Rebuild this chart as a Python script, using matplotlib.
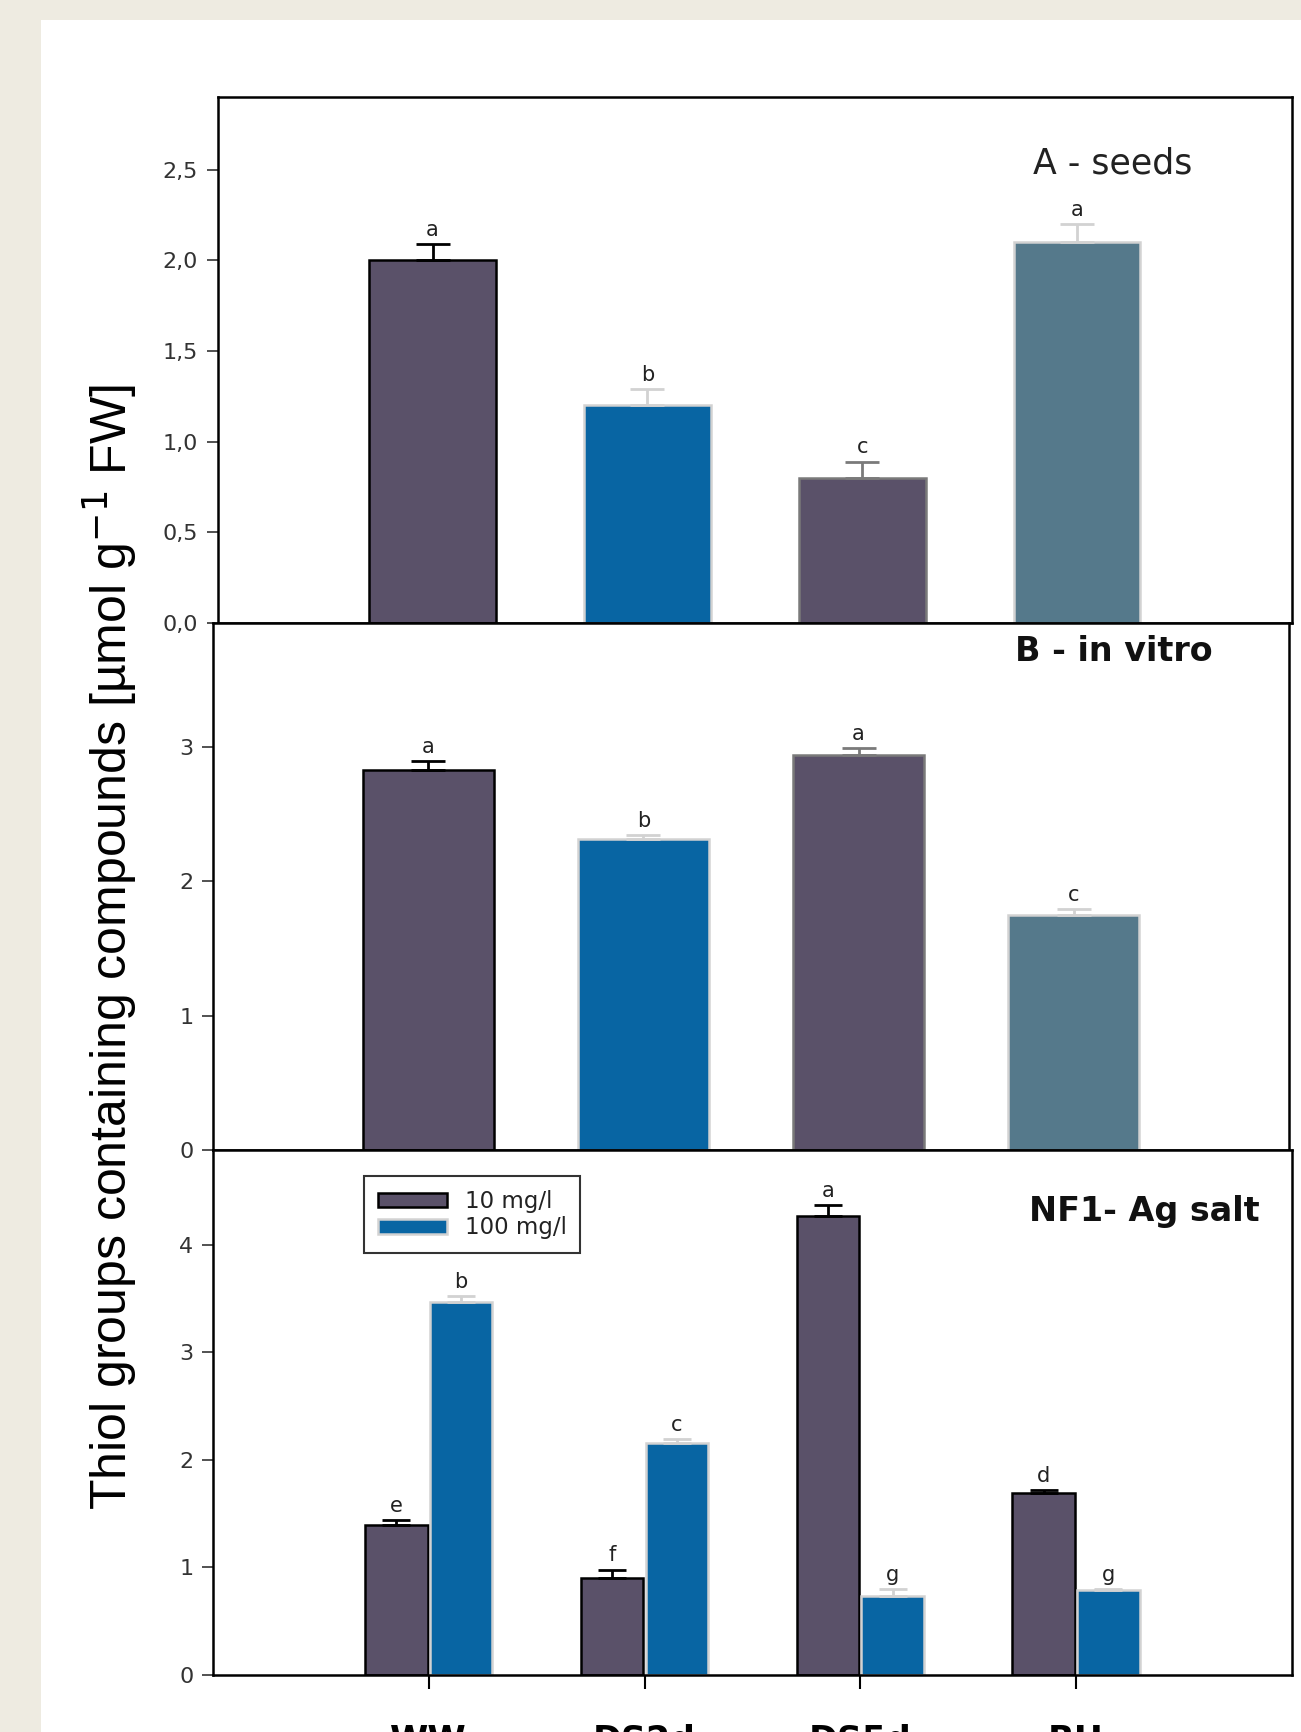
import numpy as np
import matplotlib
matplotlib.use("Agg")
import matplotlib.pyplot as plt
from matplotlib.patches import Rectangle

# data
groups = ["WW", "DS2d", "DS5d", "RH"]

seeds_vals = [2.00, 1.20, 0.80, 2.10]
seeds_err = [0.09, 0.09, 0.09, 0.10]
seeds_letters = ["a", "b", "c", "a"]

vitro_vals = [2.83, 2.31, 2.94, 1.75]
vitro_err = [0.06, 0.03, 0.05, 0.04]
vitro_letters = ["a", "b", "a", "c"]

ag10_vals = [1.39, 0.90, 4.27, 1.69]
ag10_err = [0.05, 0.08, 0.10, 0.03]
ag10_letters = ["e", "f", "a", "d"]
ag100_vals = [3.47, 2.16, 0.73, 0.79]
ag100_err = [0.05, 0.03, 0.07, 0.01]
ag100_letters = ["b", "c", "g", "g"]

seeds_ticks = [0.0, 0.5, 1.0, 1.5, 2.0, 2.5]
seeds_ticklabels = ["0,0", "0,5", "1,0", "1,5", "2,0", "2,5"]

DARK = "#5a5169"
BLUE = "#0865a3"
TEAL = "#55798b"
LIGHT = "#d2d2d2"
MID = "#7a7a7a"

single_colors = [DARK, BLUE, DARK, TEAL]
single_edges = ["black", LIGHT, MID, LIGHT]

plt.rcParams["font.family"] = ["DejaVu Sans"]

fig = plt.figure(figsize=(13.01, 17.32), dpi=100)
fig.patch.set_facecolor("#eeebe1")
fig.patches.append(Rectangle((41 / 1301, 0), 1 - 41 / 1301, 1 - 20 / 1732,
                             transform=fig.transFigure, facecolor="white",
                             edgecolor="none", zorder=-5))

ax1 = fig.add_axes([0.1673, 0.6403, 0.8257, 0.3037])
ax2 = fig.add_axes([0.1637, 0.3360, 0.8271, 0.3043])
ax3 = fig.add_axes([0.1637, 0.0329, 0.8293, 0.3031])

x = np.arange(1, len(groups) + 1)


def letter(ax, xp, top, txt):
    ax.annotate(txt, (xp, top), xytext=(0, 3), textcoords="offset points",
                ha="center", va="bottom", fontsize=15, color="#222222")


def single_panel(ax, vals, errs, letters, width):
    for xi, v, e, c, ec, lt in zip(x, vals, errs, single_colors, single_edges, letters):
        ax.bar(xi, v, width, color=c, edgecolor=ec, linewidth=1.8, zorder=2)
        ax.errorbar(xi, v, yerr=[[0], [e]], fmt="none", ecolor=ec,
                    elinewidth=2, capsize=12, capthick=2, zorder=3)
        letter(ax, xi, v + e, lt)


single_panel(ax1, seeds_vals, seeds_err, seeds_letters, 0.59)
single_panel(ax2, vitro_vals, vitro_err, vitro_letters, 0.61)

w = 0.29
off = 0.15
ax3.bar(x - off, ag10_vals, w, color=DARK, edgecolor="black",
        linewidth=1.8, zorder=2, label="10 mg/l")
ax3.bar(x + off, ag100_vals, w, color=BLUE, edgecolor=LIGHT,
        linewidth=1.8, zorder=2, label="100 mg/l")
ax3.errorbar(x - off, ag10_vals, yerr=[np.zeros(4), ag10_err], fmt="none",
             ecolor="black", elinewidth=2, capsize=10, capthick=2, zorder=3)
ax3.errorbar(x + off, ag100_vals, yerr=[np.zeros(4), ag100_err], fmt="none",
             ecolor=LIGHT, elinewidth=2, capsize=10, capthick=2, zorder=3)
for xi, v, e, lt in zip(x - off, ag10_vals, ag10_err, ag10_letters):
    letter(ax3, xi, v + e, lt)
for xi, v, e, lt in zip(x + off, ag100_vals, ag100_err, ag100_letters):
    letter(ax3, xi, v + e, lt)

leg = ax3.legend(loc="upper left", bbox_to_anchor=(0.14, 0.95), fontsize=16.5,
                 frameon=True, fancybox=False, edgecolor="black",
                 handlelength=3.0, handleheight=0.6, borderpad=0.6,
                 labelspacing=0.15, handletextpad=0.8, borderaxespad=0)
leg.get_frame().set_linewidth(1.5)
for t in leg.get_texts():
    t.set_color("#222222")

for ax in (ax1, ax2, ax3):
    ax.set_xlim(0, 5)
    for s in ax.spines.values():
        s.set_linewidth(1.8)
    ax.tick_params(axis="y", direction="out", length=8, width=1.2,
                   labelsize=16, pad=6, colors="#333333", labelcolor="#333333")

ax1.set_ylim(0, 2.9)
ax1.set_yticks(seeds_ticks)
ax1.set_yticklabels(seeds_ticklabels)
ax2.set_ylim(0, 3.92)
ax2.set_yticks([0, 1, 2, 3])
ax3.set_ylim(0, 4.88)
ax3.set_yticks([0, 1, 2, 3, 4])

ax1.set_xticks([])
ax2.set_xticks([])
ax3.set_xticks(x)
ax3.set_xticklabels(groups, fontsize=25, fontweight="bold")
ax3.tick_params(axis="x", direction="out", length=10, width=1.5, pad=25)

ax1.text(0.9075, 0.874, "A - seeds", transform=ax1.transAxes, ha="right",
         va="center", fontsize=25, color="#222222")
ax2.text(0.929, 0.945, "B - in vitro", transform=ax2.transAxes, ha="right",
         va="center", fontsize=24, fontweight="bold", color="#111111")
ax3.text(0.970, 0.882, "NF1- Ag salt", transform=ax3.transAxes, ha="right",
         va="center", fontsize=24, fontweight="bold", color="#111111")

fig.text(0.085, 0.453, "Thiol groups containing compounds [µmol g$^{-1}$ FW]",
         rotation=90, ha="center", va="center", fontsize=36,
         family=["Liberation Sans", "DejaVu Sans"])

fig.savefig("out.png", dpi=100)
